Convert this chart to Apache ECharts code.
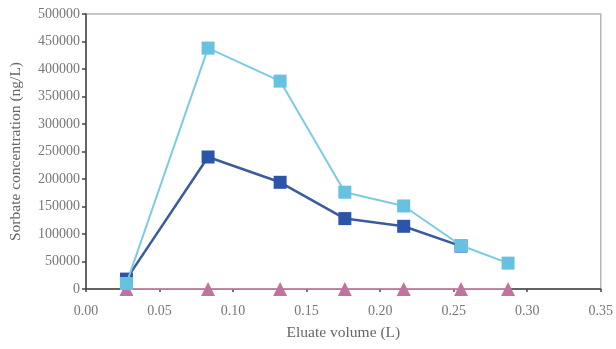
<!DOCTYPE html>
<html><head><meta charset="utf-8">
<script src="https://cdn.jsdelivr.net/npm/echarts@6/dist/echarts.min.js"></script>
<style>html,body{margin:0;padding:0;background:#fff}#c{width:616px;height:349px}</style>
</head><body><div id="c"></div>
<script>
var volumeLight = [0.0275, 0.083, 0.132, 0.176, 0.216, 0.255, 0.287];
var concLight = [10000, 438000, 378000, 176000, 151000, 79000, 47000];
var volumeDark = [0.0275, 0.083, 0.132, 0.176, 0.216, 0.255];
var concDark = [18000, 240000, 194000, 128000, 114000, 78000];
var volumePink = [0.0275, 0.083, 0.132, 0.176, 0.216, 0.255, 0.287];
var concPink = [0, 0, 0, 0, 0, 0, 0];

function pairs(xs, ys){ return xs.map(function(x,i){ return [x, ys[i]]; }); }

var font = 'Liberation Serif';
var chart = echarts.init(document.getElementById('c'));
chart.setOption({
  animation: false,
  grid: {left: 86, right: 12, top: 14, bottom: 60, show: true, borderColor: '#b5b5b5', borderWidth: 1.5},
  xAxis: {
    type: 'value', min: 0, max: 0.35, interval: 0.05,
    name: 'Eluate volume (L)', nameLocation: 'middle', nameGap: 36,
    nameTextStyle: {fontFamily: font, fontSize: 15.5, color: '#666'},
    axisLine: {show: true, onZero: false, lineStyle: {color: '#444', width: 1.5}},
    axisTick: {show: true, length: 3, inside: false, lineStyle: {color: '#444', width: 1.5}},
    axisLabel: {fontFamily: font, fontSize: 14, color: '#777', margin: 15, formatter: function(v){ return v.toFixed(2); }},
    splitLine: {show: false}
  },
  yAxis: {
    type: 'value', min: 0, max: 500000, interval: 50000,
    name: 'Sorbate concentration (ng/L)', nameLocation: 'middle', nameGap: 62,
    nameTextStyle: {fontFamily: font, fontSize: 15.5, color: '#666'},
    axisLine: {show: true, lineStyle: {color: '#444', width: 1.5}},
    axisTick: {show: true, length: 4, lineStyle: {color: '#444', width: 1.5}},
    axisLabel: {fontFamily: font, fontSize: 14, color: '#777', margin: 6, formatter: function(v){ return String(v); }},
    splitLine: {show: false}
  },
  series: [
    {type: 'line', data: pairs(volumePink, concPink), symbol: 'triangle', symbolSize: 14, z: 3,
     lineStyle: {color: '#e39abd', width: 1.5}, itemStyle: {color: '#c0739e'}},
    {type: 'line', data: pairs(volumeDark, concDark), symbol: 'rect', symbolSize: 13, z: 4,
     lineStyle: {color: '#3b5b9d', width: 2.5}, itemStyle: {color: '#2b55a8'}},
    {type: 'line', data: pairs(volumeLight, concLight), symbol: 'rect', symbolSize: 13, z: 5,
     lineStyle: {color: '#7ccbe0', width: 2}, itemStyle: {color: '#66c2e0'}}
  ]
});
</script></body></html>
